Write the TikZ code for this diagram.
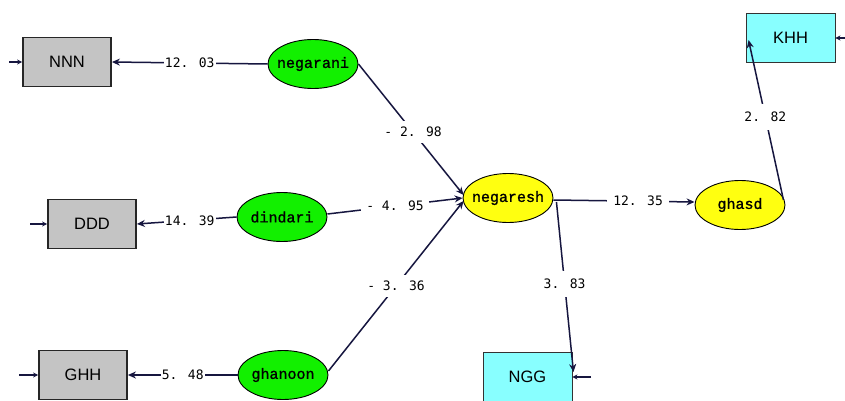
\documentclass[tikz,border=0pt]{standalone}
\usepackage{fontspec}
\setmainfont{Liberation Sans}
\newfontfamily\latfont[FakeBold=1.2]{Liberation Mono}
\newfontfamily\numfont{DejaVu Sans Mono}
\usetikzlibrary{shapes.geometric,arrows.meta,calc}
\definecolor{linecol}{HTML}{16163F}
\definecolor{obsgray}{HTML}{C4C4C4}
\definecolor{obscyan}{HTML}{88FFFF}
\definecolor{latgreen}{HTML}{12F000}
\definecolor{latyellow}{HTML}{FFFF10}
\tikzset{
  x=1pt, y=-1pt,
  obsbox/.style={rectangle, draw=black!85, line width=1.8pt, fill=obsgray,
    minimum width=88pt, minimum height=49pt, font=\fontsize{16.5}{16.5}\selectfont},
  cyanbox/.style={rectangle, draw=black!80, line width=0.9pt, fill=obscyan,
    minimum width=89pt, minimum height=49pt, font=\fontsize{16.5}{16.5}\selectfont},
  latent/.style={ellipse, draw=black, line width=0.9pt,
    minimum width=90pt, minimum height=49pt, inner xsep=-5pt, inner ysep=0pt,
    font=\latfont\fontsize{15}{15}\selectfont},
  greenlat/.style={latent, fill=latgreen},
  yellowlat/.style={latent, fill=latyellow},
  path/.style={draw=linecol, line width=1.5pt, -{Stealth[length=8pt,width=7pt]}},
  errstub/.style={draw=linecol, line width=1.8pt, -{Stealth[length=5pt,width=5pt]}},
  coef/.style={fill=white, inner sep=3pt, text=black,
    font=\numfont\fontsize{13}{13}\selectfont}
}
\begin{document}
\begin{tikzpicture}
\useasboundingbox[fill=white] (0,0) rectangle (845,401);

% observed indicators
\node[obsbox]  (NNN) at (67,62)   {NNN};
\node[obsbox]  (DDD) at (92,224)  {DDD};
\node[obsbox]  (GHH) at (83,375)  {GHH};
\node[cyanbox] (KHH) at (790.5,38) {KHH};
\node[cyanbox] (NGG) at (527.5,377) {NGG};

% latent variables
\node[greenlat]  (negarani) at (313,64)  {negarani};
\node[greenlat]  (dindari)  at (282,217) {dindari};
\node[greenlat]  (ghanoon)  at (283,375) {ghanoon};
\node[yellowlat] (negaresh) at (508,198) {negaresh};
\node[yellowlat] (ghasd)    at (740,205) {ghasd};

% error terms
\coordinate (eNNN) at (9,62);
\coordinate (eDDD) at (30,224);
\coordinate (eGHH) at (19,375);
\coordinate (eKHH) at (846,38);
\coordinate (eNGG) at (591,377);
\draw[errstub] (eNNN) -- (NNN.west);
\draw[errstub] (eDDD) -- (DDD.west);
\draw[errstub] (eGHH) -- (GHH.west);
\draw[errstub] (eKHH) -- (KHH.east);
\draw[errstub] (eNGG) -- (NGG.east);

% measurement paths
\draw[path] (negarani.west) -- node[coef, pos=0.5, inner sep=1pt]{12. 03} (NNN.east);
\draw[path] (dindari.west) -- node[coef, pos=0.47, inner sep=1pt]{14. 39} (DDD.east);
\draw[path] (ghanoon.west) -- node[coef, pos=0.5, inner sep=1pt]{5. 48} (GHH.east);

% structural paths
\draw[path] (negarani.east) -- node[coef, pos=0.52, inner sep=6pt]{- 2. 98} ($(negaresh.west)+(1,-3)$);
\draw[path] ($(dindari.east)+(0,-3)$) -- node[coef, pos=0.5, inner sep=5pt]{- 4. 95} ($(negaresh.west)+(0,0)$);
\draw[path] ($(ghanoon.east)+(0,-4)$) -- node[coef, pos=0.5, inner sep=6pt]{- 3. 36} ($(negaresh.west)+(1,3)$);
\draw[path] ($(negaresh.east)+(0,2)$) -- node[coef, pos=0.6, inner sep=6pt]{12. 35} ($(ghasd.west)+(0,-3)$);
\draw[path] ($(negaresh.east)+(3,4)$) -- node[coef, pos=0.48, inner sep=8pt]{3. 83} ($(NGG.east)+(1,-5)$);
\draw[path] ($(ghasd.east)+(-2,-5)$) -- node[coef, pos=0.52, inner sep=8pt]{2. 82} ($(KHH.west)+(3,2)$);
\end{tikzpicture}
\end{document}
